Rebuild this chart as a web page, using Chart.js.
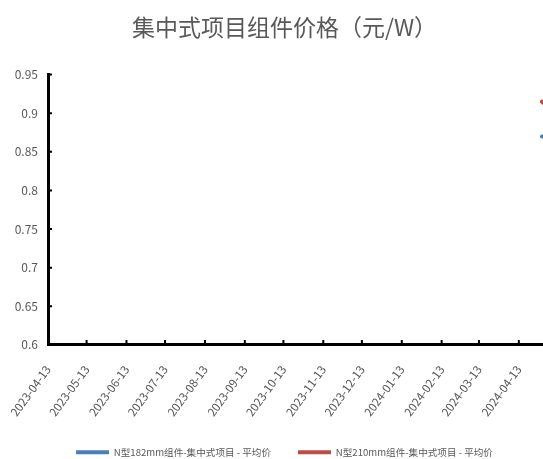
<!DOCTYPE html>
<html lang="zh">
<head>
    <meta charset="UTF-8">
    <title>集中式项目组件价格</title>
    <script src="https://cdn.jsdelivr.net/npm/chart.js"></script>
    <style>
        body { margin: 0; background: #fff; overflow: hidden; }
        .chart-box { width: 576px; height: 459px; }
    </style>
</head>
<body>
    <div class="chart-box">
        <canvas id="priceChart"></canvas>
    </div>

    <script>
        // Monthly axis labels
        const tickLabels = ['2023-04-13', '2023-05-13', '2023-06-13', '2023-07-13', '2023-08-13', '2023-09-13',
            '2023-10-13', '2023-11-13', '2023-12-13', '2024-01-13', '2024-02-13', '2024-03-13', '2024-04-13'];
        const yTicks = [0.6, 0.65, 0.7, 0.75, 0.8, 0.85, 0.9, 0.95];

        // Average price series (元/W)
        const priceDates = ['2024-05-01', '2024-05-08', '2024-05-15', '2024-05-22'];
        const n182Price = [0.87, 0.87, 0.865, 0.865];
        const n210Price = [0.915, 0.905, 0.9, 0.895];

        const seriesNames = ['N型182mm组件-集中式项目 - 平均价', 'N型210mm组件-集中式项目 - 平均价'];

        // days since the first axis date
        const startDay = Date.UTC(2023, 3, 13);
        const dayOf = s => {
            const [yy, mm, dd] = s.split('-').map(Number);
            return (Date.UTC(yy, mm - 1, dd) - startDay) / 86400000;
        };

        const cjk = '"Noto Sans CJK SC", sans-serif';

        // small tick marks pointing into the plot
        const inwardTicks = {
            id: 'inwardTicks',
            afterDraw(chart) {
                const { ctx, chartArea, scales: { x, y } } = chart;
                ctx.save();
                ctx.strokeStyle = '#000';
                ctx.lineWidth = 2;
                ctx.beginPath();
                y.ticks.forEach(t => {
                    const py = y.getPixelForValue(t.value);
                    ctx.moveTo(chartArea.left, py);
                    ctx.lineTo(chartArea.left + 4, py);
                });
                x.ticks.forEach(t => {
                    const px = x.getPixelForValue(t.value);
                    ctx.moveTo(px, chartArea.bottom);
                    ctx.lineTo(px, chartArea.bottom - 5);
                });
                ctx.stroke();
                ctx.restore();
            }
        };

        const toPoints = vals => priceDates.map((d, i) => ({ x: dayOf(d), y: vals[i] }));

        new Chart(document.getElementById('priceChart'), {
            type: 'line',
            data: {
                datasets: [{
                    label: seriesNames[0],
                    data: toPoints(n182Price),
                    borderColor: '#4A7EBB',
                    backgroundColor: '#4A7EBB',
                    borderWidth: 4,
                    borderCapStyle: 'round',
                    pointRadius: 0,
                    tension: 0
                }, {
                    label: seriesNames[1],
                    data: toPoints(n210Price),
                    borderColor: '#BE4B48',
                    backgroundColor: '#BE4B48',
                    borderWidth: 4,
                    borderCapStyle: 'round',
                    pointRadius: 0,
                    tension: 0
                }]
            },
            options: {
                responsive: true,
                maintainAspectRatio: false,
                animation: false,
                layout: { padding: { left: 0, right: 7, top: 0, bottom: -8 } },
                plugins: {
                    title: {
                        display: true,
                        text: '集中式项目组件价格（元/W）',
                        color: '#595959',
                        font: { family: cjk, size: 23, weight: 'normal' },
                        padding: { top: 13, bottom: 34 }
                    },
                    legend: {
                        position: 'bottom',
                        labels: {
                            color: '#595959',
                            font: { family: cjk, size: 9.6 },
                            usePointStyle: true,
                            pointStyle: 'line',
                            pointStyleWidth: 33,
                            padding: 27
                        }
                    },
                    tooltip: { enabled: false }
                },
                scales: {
                    x: {
                        type: 'linear',
                        min: 0,
                        max: dayOf(priceDates[priceDates.length - 1]),
                        afterFit: s => {
                            s.height = 75.5;
                            s.paddingLeft = 0;
                            s.paddingRight = 0;
                        },
                        afterBuildTicks: s => { s.ticks = tickLabels.map(l => ({ value: dayOf(l) })); },
                        grid: { display: false, drawTicks: false },
                        border: { color: '#000', width: 3 },
                        ticks: {
                            autoSkip: false,
                            maxRotation: 54,
                            minRotation: 54,
                            padding: 18,
                            color: '#595959',
                            font: { family: cjk, size: 11.5 },
                            callback: (v, i) => tickLabels[i]
                        }
                    },
                    y: {
                        min: 0.6,
                        max: 0.95,
                        afterFit: s => { s.width = 48; },
                        afterBuildTicks: s => { s.ticks = yTicks.map(v => ({ value: v })); },
                        grid: { display: false, drawTicks: false },
                        border: { color: '#000', width: 3 },
                        ticks: {
                            padding: 10,
                            color: '#595959',
                            font: { family: cjk, size: 12 },
                            callback: v => String(+v.toFixed(2))
                        }
                    }
                }
            },
            plugins: [inwardTicks]
        });
    </script>
</body>
</html>
